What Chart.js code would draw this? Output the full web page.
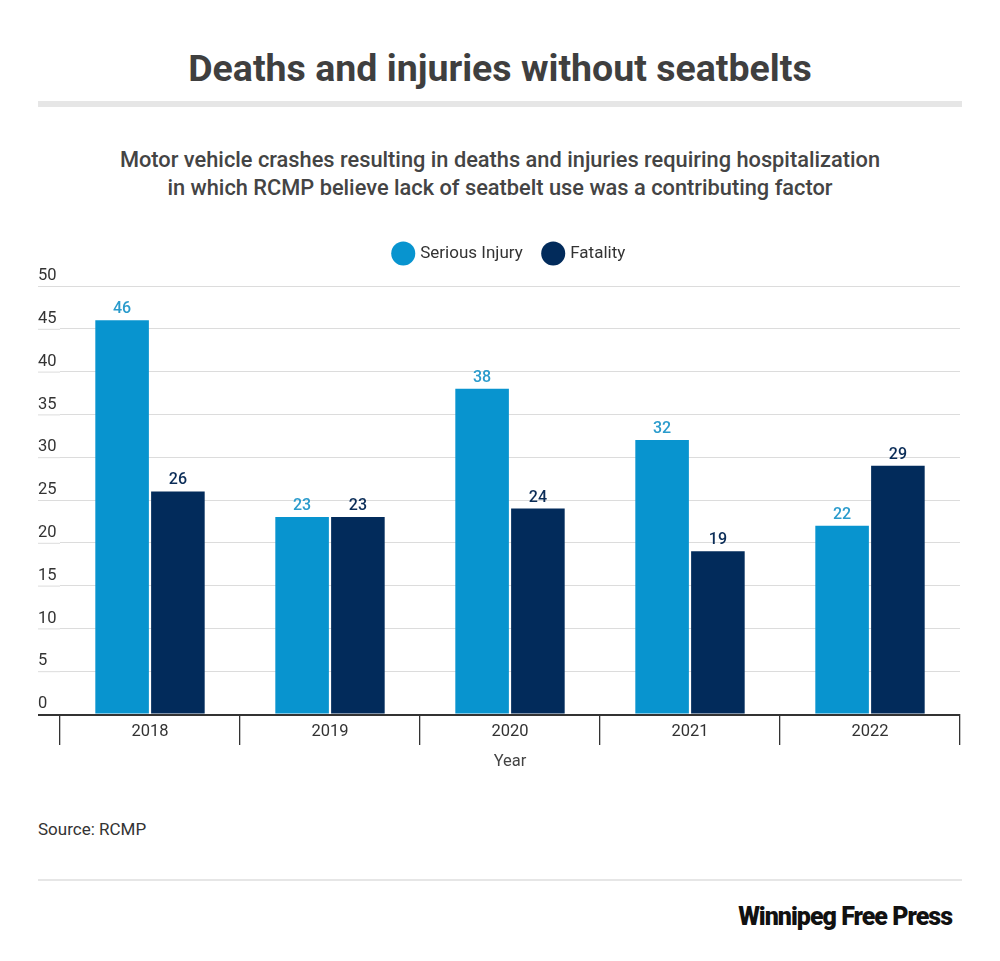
<!DOCTYPE html>
<html lang="en">
<head>
  <meta charset="UTF-8">
  <title>Deaths and injuries without seatbelts</title>
  <script src="https://cdn.jsdelivr.net/npm/chart.js"></script>
  <style>
    body {
      margin: 0;
      width: 1000px;
      height: 961px;
      background: #fff;
      font-family: Roboto, "Open Sans", sans-serif;
      color: #3d3d3d;
      position: relative;
      overflow: hidden;
    }

    h1 {
      position: absolute;
      top: 44px;
      left: 0;
      width: 1000px;
      margin: 0;
      text-align: center;
      font-size: 37.5px;
      font-weight: 700;
      line-height: 48px;
      color: #3f3f3f;
    }

    .rule {
      position: absolute;
      left: 38px;
      width: 924px;
      background: #e6e6e6;
    }

    .subtitle {
      position: absolute;
      top: 146px;
      left: 0;
      width: 1000px;
      text-align: center;
      font-size: 21.8px;
      font-weight: 500;
      line-height: 28px;
      color: #444;
    }

    #wrap {
      position: absolute;
      left: 0;
      top: 230px;
      width: 1000px;
      height: 550px;
    }

    .source {
      position: absolute;
      left: 38px;
      top: 819px;
      font-size: 17px;
      color: #333;
    }

    .logo {
      position: absolute;
      right: 48px;
      top: 902px;
      font-size: 25px;
      font-weight: 900;
      letter-spacing: -1px;
      color: #111;
    }
  </style>
</head>
<body>

  <h1>Deaths and injuries without seatbelts</h1>
  <div class="rule" style="top:101px;height:6px"></div>
  <div class="subtitle">Motor vehicle crashes resulting in deaths and injuries requiring hospitalization<br>in which RCMP believe lack of seatbelt use was a contributing factor</div>

  <div id="wrap"><canvas id="seatbeltChart"></canvas></div>

  <div class="source">Source: RCMP</div>
  <div class="rule" style="top:879px;height:2px"></div>
  <div class="logo">Winnipeg Free Press</div>

  <script>
    const years = ['2018', '2019', '2020', '2021', '2022'];
    const seriousInjury = [46, 23, 38, 32, 22];
    const fatality = [26, 23, 24, 19, 29];
    const yTicks = [0, 5, 10, 15, 20, 25, 30, 35, 40, 45, 50];
    const xTitle = 'Year';

    const lightBlue = '#0894cf';
    const darkBlue = '#022b5b';

    // push the plot down below the legend
    const legendGap = {
      id: 'legendGap',
      beforeInit(chart) {
        const fit = chart.legend.fit;
        chart.legend.fit = function () {
          fit.bind(chart.legend)();
          this.height += 14;
        };
      }
    };

    // y labels sit above the gridlines at the far left, plus axis line and x title
    const axisExtras = {
      id: 'axisExtras',
      afterDraw(chart) {
        const ctx = chart.ctx;
        const y = chart.scales.y;
        const area = chart.chartArea;
        ctx.save();
        ctx.strokeStyle = '#dcdcdc';
        ctx.lineWidth = 1;
        ctx.font = '16.5px Roboto';
        ctx.fillStyle = '#333';
        ctx.textAlign = 'left';
        ctx.textBaseline = 'middle';
        yTicks.forEach(v => {
          const py = y.getPixelForValue(v);
          if (v > 0) {
            ctx.beginPath();
            ctx.moveTo(38, py + 0.5);
            ctx.lineTo(area.left, py + 0.5);
            ctx.stroke();
          }
          ctx.fillText(String(v), 38, py - 10);
        });
        // axis line runs the full width
        ctx.strokeStyle = '#333';
        ctx.lineWidth = 2;
        ctx.beginPath();
        ctx.moveTo(38, area.bottom + 1);
        ctx.lineTo(area.right, area.bottom + 1);
        ctx.stroke();
        // axis title
        ctx.fillStyle = '#444';
        ctx.textAlign = 'center';
        ctx.fillText(xTitle, (area.left + area.right) / 2, area.bottom + 48);
        ctx.restore();
      }
    };

    // value labels above the bars
    const valueLabels = {
      id: 'valueLabels',
      afterDatasetsDraw(chart) {
        const ctx = chart.ctx;
        ctx.save();
        ctx.font = '500 16px Roboto';
        ctx.textAlign = 'center';
        ctx.textBaseline = 'middle';
        chart.data.datasets.forEach((ds, i) => {
          ctx.fillStyle = i === 0 ? '#2a9bcc' : '#0b2d58';
          chart.getDatasetMeta(i).data.forEach((bar, j) => {
            ctx.fillText(String(ds.data[j]), bar.x, bar.y - 11);
          });
        });
        ctx.restore();
      }
    };

    const ctx = document.getElementById('seatbeltChart').getContext('2d');

    new Chart(ctx, {
      type: 'bar',
      data: {
        labels: years,
        datasets: [
          { label: 'Serious Injury', data: seriousInjury, backgroundColor: lightBlue },
          { label: 'Fatality', data: fatality, backgroundColor: darkBlue }
        ]
      },
      options: {
        responsive: true,
        maintainAspectRatio: false,
        animation: false,
        layout: {
          padding: { left: 60, right: 40, top: -7, bottom: 4 }
        },
        categoryPercentage: 0.62,
        barPercentage: 0.96,
        plugins: {
          legend: {
            display: true,
            labels: {
              usePointStyle: true,
              pointStyle: 'circle',
              boxWidth: 18,
              boxHeight: 18,
              padding: 22,
              color: '#333',
              font: { family: 'Roboto', size: 17 }
            }
          },
          tooltip: { enabled: false }
        },
        scales: {
          x: {
            afterFit(scale) {
              scale.height = 62;
            },
            grid: {
              display: true,
              drawOnChartArea: false,
              drawTicks: true,
              tickLength: 31,
              color: '#333',
              lineWidth: 1.3
            },
            border: { display: false },
            ticks: {
              padding: -23,
              color: '#333',
              font: { family: 'Roboto', size: 16.5 }
            }
          },
          y: {
            min: 0,
            max: 50,
            afterBuildTicks(scale) {
              scale.ticks = yTicks.map(v => ({ value: v }));
            },
            ticks: { display: false },
            grid: {
              color: '#dcdcdc',
              drawTicks: false
            },
            border: { display: false }
          }
        }
      },
      plugins: [legendGap, axisExtras, valueLabels]
    });
  </script>

</body>
</html>
